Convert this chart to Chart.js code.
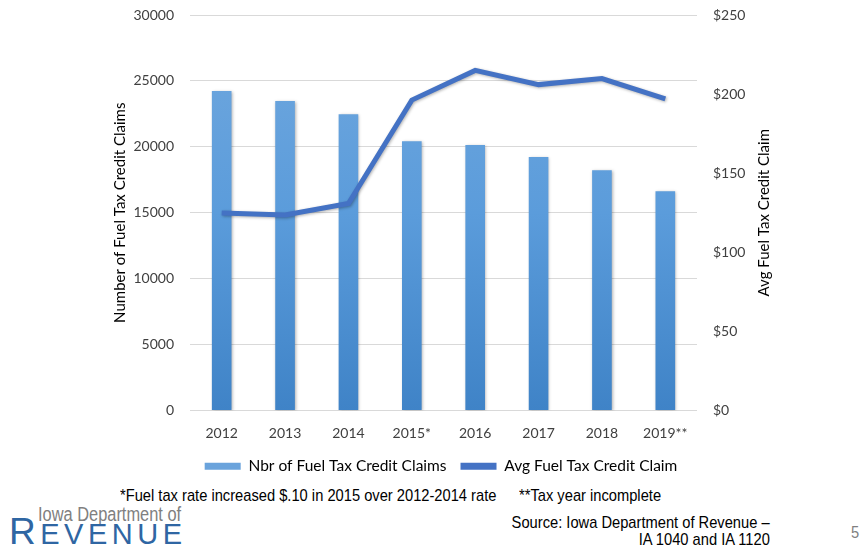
<!DOCTYPE html>
<html>
<head>
<meta charset="utf-8">
<script src="https://cdn.jsdelivr.net/npm/chart.js@4"></script>
<style>
  body { margin: 0; background: #fff; width: 864px; height: 549px; overflow: hidden; position: relative; }
  #wrap { position: absolute; left: 0; top: 0; width: 864px; height: 484px; }
  .note { position: absolute; font-family: "Liberation Sans", Arial, sans-serif; font-size: 17px; color: #000; white-space: nowrap; transform: scaleX(0.864); transform-origin: left center; }
  .note.r { transform-origin: right center; text-align: right; }
  .logo1 { position: absolute; left: 38px; top: 503px; font-family: "Liberation Sans", sans-serif; font-size: 20px; color: #808080; white-space: nowrap; transform: scaleX(0.82); transform-origin: left center; }
  .logo2 { position: absolute; left: 9px; top: 516px; font-family: "Liberation Sans", sans-serif; color: #2f66a3; letter-spacing: 4.5px; line-height: 32px; white-space: nowrap; }
  .logo2 .big { font-size: 37px; }
  .logo2 .small { font-size: 29px; }
</style>
</head>
<body>
<div id="wrap"><canvas id="chart"></canvas></div>
<div class="note" style="left:120px; top:486px;">*Fuel tax rate increased $.10 in 2015 over 2012-2014 rate</div>
<div class="note" style="left:519px; top:486px;">**Tax year incomplete</div>
<div class="note r" style="right:94px; top:513px;">Source: Iowa Department of Revenue –</div>
<div class="note r" style="right:94px; top:530px;">IA 1040 and IA 1120</div>
<div class="note" style="left:851px; top:523px; color:#808080;">5</div>
<div class="logo1">Iowa Department of</div>
<div class="logo2"><span class="big">R</span><span class="small">EVENUE</span></div>
<script>
// ---- datos del gráfico ----
const years = ['2012', '2013', '2014', '2015*', '2016', '2017', '2018', '2019**'];
const nbrClaims = [24230, 23470, 22480, 20420, 20130, 19220, 18230, 16630];
const avgClaim = [124.8, 123.6, 130.8, 196.2, 215.0, 206.0, 209.8, 197.0];
const leftTicks = [0, 5000, 10000, 15000, 20000, 25000, 30000];
const rightTicks = [0, 50, 100, 150, 200, 250];

const tickFont = { family: 'Lato, "Open Sans", sans-serif', size: 14 };
const titleFont = { family: 'Lato, "Open Sans", sans-serif', size: 15 };

// degradado de las barras (claro arriba, más oscuro abajo)
function barGradient(ctx) {
  const area = ctx.chart.chartArea;
  if (!area) return '#5b9bd5';
  const g = ctx.chart.ctx.createLinearGradient(0, area.top, 0, area.bottom);
  g.addColorStop(0, '#71a8de');
  g.addColorStop(0.5, '#5b9cdb');
  g.addColorStop(1, '#3f83c7');
  return g;
}

// sombra suave para barras y línea
const shadowPlugin = {
  id: 'shadow',
  beforeDatasetDraw(chart) {
    const c = chart.ctx;
    c.save();
    c.shadowColor = 'rgba(0,0,0,0.3)';
    c.shadowBlur = 3;
    c.shadowOffsetX = 1;
    c.shadowOffsetY = 1;
  },
  afterDatasetDraw(chart) {
    chart.ctx.restore();
  }
};

// título del eje derecho girado de abajo hacia arriba
const rightTitlePlugin = {
  id: 'rightTitle',
  afterDraw(chart) {
    const s = chart.scales.y1;
    const c = chart.ctx;
    c.save();
    c.translate(s.right - 11, (s.top + s.bottom) / 2);
    c.rotate(-Math.PI / 2);
    c.font = '15px Lato, "Open Sans", sans-serif';
    c.fillStyle = '#000';
    c.textAlign = 'center';
    c.textBaseline = 'middle';
    c.fillText('Avg Fuel Tax Credit Claim', 0, 0);
    c.restore();
  }
};

new Chart(document.getElementById('chart'), {
  type: 'bar',
  data: {
    labels: years,
    datasets: [
      {
        type: 'bar',
        label: 'Nbr of Fuel Tax Credit Claims',
        data: nbrClaims,
        backgroundColor: barGradient,
        yAxisID: 'y',
        order: 2,
        categoryPercentage: 1,
        barPercentage: 0.31
      },
      {
        type: 'line',
        label: 'Avg Fuel Tax Credit Claim',
        data: avgClaim,
        borderColor: '#4472c4',
        backgroundColor: '#4472c4',
        borderWidth: 5,
        pointRadius: 0,
        tension: 0,
        yAxisID: 'y1',
        order: 1
      }
    ]
  },
  options: {
    responsive: true,
    maintainAspectRatio: false,
    animation: false,
    layout: { padding: { left: 107, right: 89, top: 15, bottom: 0 } },
    plugins: {
      tooltip: { enabled: false },
      legend: {
        position: 'bottom',
        sort: (a, b) => a.datasetIndex - b.datasetIndex,
        labels: {
          boxWidth: 36,
          boxHeight: 7,
          padding: 14,
          color: '#000',
          font: { family: 'Lato, "Open Sans", sans-serif', size: 15.5 },
          generateLabels(chart) {
            return chart.data.datasets.map((ds, i) => ({
              text: ds.label,
              fillStyle: i === 0 ? '#6aa3dc' : '#4472c4',
              strokeStyle: 'transparent',
              lineWidth: 0,
              datasetIndex: i
            }));
          }
        }
      }
    },
    scales: {
      x: {
        grid: { display: false, drawTicks: false },
        border: { display: false },
        ticks: { color: '#404040', font: tickFont, padding: 15 },
        afterFit(axis) { axis.height = 34; }
      },
      y: {
        position: 'left',
        min: 0,
        max: 30000,
        afterBuildTicks(axis) { axis.ticks = leftTicks.map(v => ({ value: v })); },
        grid: { color: '#d9d9d9', lineWidth: 1, drawTicks: false },
        border: { display: false },
        ticks: { color: '#404040', font: tickFont, padding: 16, callback: v => String(v) },
        title: { display: true, text: 'Number of Fuel Tax Credit Claims', color: '#000', font: titleFont, padding: 4 },
        afterFit(axis) { axis.width = 83; axis.paddingTop = 0; axis.paddingBottom = 0; }
      },
      y1: {
        position: 'right',
        min: 0,
        max: 250,
        afterBuildTicks(axis) { axis.ticks = rightTicks.map(v => ({ value: v })); },
        grid: { drawOnChartArea: false, drawTicks: false },
        border: { display: false },
        ticks: { color: '#404040', font: tickFont, padding: 16, callback: v => '$' + v },
        afterFit(axis) { axis.width = 78; axis.paddingTop = 0; axis.paddingBottom = 0; }
      }
    }
  },
  plugins: [shadowPlugin, rightTitlePlugin]
});
</script>
</body>
</html>
